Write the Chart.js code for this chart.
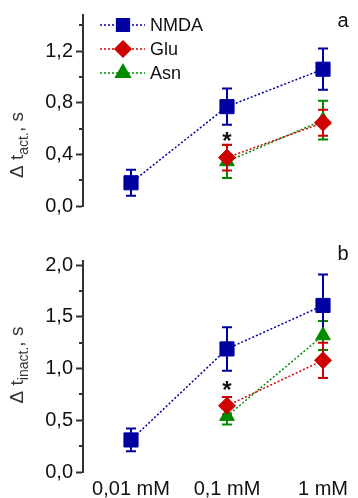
<!DOCTYPE html>
<html>
<head>
<meta charset="utf-8">
<script src="https://cdn.jsdelivr.net/npm/chart.js@4.4.0/dist/chart.umd.min.js"></script>
<style>
  html, body { margin: 0; padding: 0; background: #fff; }
  #wrap { position: relative; width: 358px; height: 498px; }
  canvas { position: absolute; left: 0; }
</style>
</head>
<body>
<div id="wrap">
  <canvas id="chartAct" width="358" height="245" style="top:0"></canvas>
  <canvas id="chartInact" width="358" height="253" style="top:245px"></canvas>
</div>
<script>
// categories
const concLabels = ['0,01 mM', '0,1 mM', '1 mM']
const concPos = [0, 1, 2]

// panel a: delta t act., s
const actNMDA = [0.18, 0.77, 1.06]
const actNMDAErr = [0.10, 0.14, 0.16]
const actGlu = [null, 0.375, 0.645]
const actGluErr = [null, 0.10, 0.10]
const actAsn = [null, 0.345, 0.665]
const actAsnErr = [null, 0.128, 0.15]

// panel b: delta t inact., s
const inactNMDA = [0.31, 1.19, 1.61]
const inactNMDAErr = [0.11, 0.21, 0.30]
const inactGlu = [null, 0.64, 1.08]
const inactGluErr = [null, 0.085, 0.17]
const inactAsn = [null, 0.54, 1.32]
const inactAsnErr = [null, 0.08, 0.14]

// significance marks (value at 0,1 mM)
const starAct = 0.54
const starInact = 0.84

const FONT = "'Liberation Sans', Arial, sans-serif"
const BLUE = '#0000a0', RED = '#d00000', GREEN = '#008a00'

function pts(arr){
  return concPos.map((x, i) => ({x: x, y: arr[i]}))
}

function series(label, vals, errs, color, style, radius){
  return {
    label: label,
    data: pts(vals),
    errors: errs,
    borderColor: color,
    backgroundColor: color,
    borderWidth: 1.5,
    borderDash: [2, 2],
    pointStyle: style,
    pointRadius: radius,
    pointBorderWidth: 1,
    pointBorderColor: color,
    pointBackgroundColor: color,
    clip: false,
    spanGaps: false
  }
}

const errorBars = {
  id: 'errorBars',
  beforeDatasetsDraw(chart){
    const ctx = chart.ctx
    const xs = chart.scales.x, ys = chart.scales.y
    for (let d = chart.data.datasets.length - 1; d >= 0; d--){
      const ds = chart.data.datasets[d]
      ctx.save()
      ctx.strokeStyle = ds.borderColor
      ctx.lineWidth = 2
      ds.data.forEach((p, i) => {
        const e = ds.errors[i]
        if (p.y == null || e == null) return
        const x = xs.getPixelForValue(p.x)
        const y1 = ys.getPixelForValue(p.y + e)
        const y2 = ys.getPixelForValue(p.y - e)
        ctx.beginPath()
        ctx.moveTo(x, y1); ctx.lineTo(x, y2)
        ctx.moveTo(x - 5, y1); ctx.lineTo(x + 5, y1)
        ctx.moveTo(x - 5, y2); ctx.lineTo(x + 5, y2)
        ctx.stroke()
      })
      ctx.restore()
    }
  }
}

const decorations = {
  id: 'decorations',
  afterDraw(chart, args, opts){
    const ctx = chart.ctx
    const area = chart.chartArea
    const xs = chart.scales.x, ys = chart.scales.y
    ctx.save()
    // minor ticks
    ctx.strokeStyle = '#333'
    ctx.lineWidth = 2
    opts.minor.forEach(v => {
      const y = Math.round(ys.getPixelForValue(v))
      ctx.beginPath()
      ctx.moveTo(area.left - 4, y); ctx.lineTo(area.left, y)
      ctx.stroke()
    })
    // axis title with subscript
    ctx.translate(23, opts.titleY)
    ctx.rotate(-Math.PI / 2)
    ctx.fillStyle = '#333'
    const big = '19px ' + FONT, small = '14px ' + FONT
    ctx.font = big
    const w1 = ctx.measureText('\u0394 t').width
    const w3 = ctx.measureText(', s').width
    ctx.font = small
    const w2 = ctx.measureText(opts.sub).width
    let x = -(w1 + w2 + w3) / 2
    ctx.textBaseline = 'alphabetic'
    ctx.font = big
    ctx.fillText('\u0394 t', x, 0); x += w1
    ctx.font = small
    ctx.fillText(opts.sub, x, 5); x += w2
    ctx.font = big
    ctx.fillText(', s', x, 0)
    ctx.restore()

    // panel letter
    ctx.save()
    ctx.fillStyle = '#111'
    ctx.font = '20px ' + FONT
    ctx.textAlign = 'center'
    let m = ctx.measureText(opts.letter)
    ctx.fillText(opts.letter, 343, opts.letterY + (m.actualBoundingBoxAscent - m.actualBoundingBoxDescent) / 2)
    // asterisk
    ctx.font = 'bold 24px ' + FONT
    m = ctx.measureText('*')
    ctx.fillText('*', xs.getPixelForValue(1), ys.getPixelForValue(opts.star) + (m.actualBoundingBoxAscent - m.actualBoundingBoxDescent) / 2)
    ctx.restore()

    // legend
    if (opts.legend){
      chart.data.datasets.forEach((ds, i) => {
        const y = 25 + i * 24
        ctx.save()
        ctx.strokeStyle = ds.borderColor
        ctx.lineWidth = 1.5
        ctx.setLineDash([2, 2])
        ctx.beginPath()
        ctx.moveTo(100, y); ctx.lineTo(145, y)
        ctx.stroke()
        ctx.setLineDash([])
        ctx.fillStyle = ds.backgroundColor
        Chart.helpers.drawPoint(ctx, {pointStyle: ds.pointStyle, radius: ds.legendRadius || ds.pointRadius, borderWidth: 1, rotation: 0}, 123, y)
        ctx.fillStyle = '#111'
        ctx.font = '18px ' + FONT
        ctx.textBaseline = 'middle'
        ctx.fillText(ds.label, 150, y + 1)
        ctx.restore()
      })
    }
  }
}

function makeChart(id, sets, o){
  return new Chart(document.getElementById(id), {
    type: 'line',
    data: {datasets: sets},
    plugins: [errorBars, decorations],
    options: {
      responsive: false,
      animation: false,
      devicePixelRatio: 1,
      layout: {padding: o.padding},
      plugins: {
        legend: {display: false},
        tooltip: {enabled: false},
        decorations: o.deco
      },
      scales: {
        x: {
          type: 'linear',
          min: -0.5,
          max: 2.25,
          display: o.showX,
          afterBuildTicks: s => { s.ticks = concPos.map(v => ({value: v})) },
          afterFit: s => { s.height = 26 },
          grid: {display: false, drawTicks: false},
          border: {display: false},
          ticks: {
            padding: 5,
            maxRotation: 0,
            autoSkip: false,
            color: '#111',
            font: {size: 20, family: FONT},
            callback: v => concLabels[concPos.indexOf(v)]
          }
        },
        y: {
          min: 0,
          max: o.yMax,
          afterFit: s => { s.width = 83 },
          border: {display: true, color: '#333', width: 2},
          grid: {display: true, drawOnChartArea: false, drawTicks: true, tickLength: 7, tickColor: '#333', tickWidth: 2},
          ticks: {
            stepSize: o.step,
            includeBounds: false,
            padding: 3,
            color: '#111',
            font: {size: 20, family: FONT},
            callback: v => v.toFixed(1).replace('.', ',')
          }
        }
      }
    }
  })
}

const actSets = [
  series('NMDA', actNMDA, actNMDAErr, BLUE, 'rect', 10),
  series('Glu', actGlu, actGluErr, RED, 'rectRot', 8.5),
  series('Asn', actAsn, actAsnErr, GREEN, 'triangle', 8.5)
]
actSets[0].legendRadius = 9
actSets[1].legendRadius = 8
actSets[2].legendRadius = 8.5

makeChart('chartAct', actSets, {
  yMax: 1.48, step: 0.4, showX: false,
  padding: {top: 13, bottom: 13, left: 0, right: 0},
  deco: {minor: [0.2, 0.6, 1.0, 1.4], sub: 'act.', titleY: 145, letter: 'a', letterY: 21, star: starAct, legend: true}
})

makeChart('chartInact', [
  series('NMDA', inactNMDA, inactNMDAErr, BLUE, 'rect', 10),
  series('Glu', inactGlu, inactGluErr, RED, 'rectRot', 8.5),
  series('Asn', inactAsn, inactAsnErr, GREEN, 'triangle', 8.5)
], {
  yMax: 2.04, step: 0.5, showX: true,
  padding: {top: 16, bottom: 0, left: 0, right: 0},
  deco: {minor: [0.25, 0.75, 1.25, 1.75], sub: 'inact.', titleY: 120, letter: 'b', letterY: 7, star: starInact, legend: false}
})
</script>
</body>
</html>
